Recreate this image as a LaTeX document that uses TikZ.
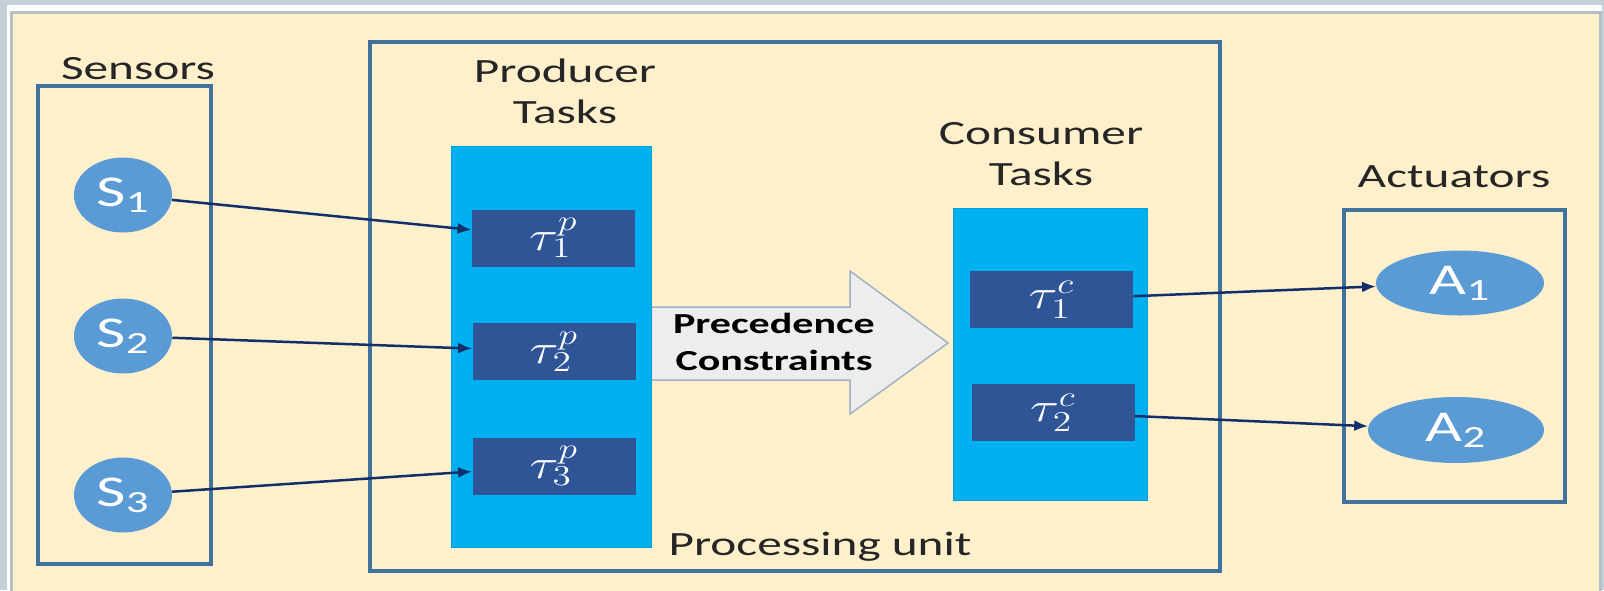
\documentclass[tikz,border=0pt]{standalone}
\usepackage{fontspec}
\setmainfont{Carlito}[FakeStretch=1.45]
\usetikzlibrary{arrows.meta,shapes.geometric}

\definecolor{outergrey}{HTML}{C4CFD7}
\definecolor{panelgrey}{HTML}{B4C0C4}
\definecolor{cream}{HTML}{FFF0CC}
\definecolor{boxblue}{HTML}{41719C}
\definecolor{nodeblue}{HTML}{5B9BD5}
\definecolor{colblue}{HTML}{00B0F0}
\definecolor{taskblue}{HTML}{2F5597}
\definecolor{linknavy}{HTML}{132F6B}
\definecolor{arrowgrey}{HTML}{EDEDED}
\definecolor{arrowedge}{HTML}{9DB2C6}
\definecolor{labelgrey}{HTML}{262626}

\newcommand{\tsk}[2]{\scalebox{1.3}[1]{\(\tau_{#1}^{#2}\)}}

\begin{document}
\begin{tikzpicture}[x=0.5pt, y=-0.5pt,
    group/.style={draw=boxblue, line width=2pt},
    column/.style={fill=colblue, draw=colblue!90!black, line width=0.5pt},
    task/.style={fill=taskblue, text=white, inner sep=0pt,
      minimum width=81.5pt, minimum height=28.5pt,
      font=\fontsize{20}{20}\selectfont},
    device/.style={ellipse, fill=nodeblue, text=white, inner sep=0pt,
      font=\fontsize{22}{24}\selectfont},
    link/.style={draw=linknavy, line width=1.25pt,
      -{Latex[length=7pt, width=5.5pt]}},
    heading/.style={text=labelgrey, align=center, anchor=base,
      font=\fontsize{17}{20.5}\selectfont}]
    \useasboundingbox (0, 0) rectangle (1604, 590);
    % frame
    \fill[outergrey] (0, 0) rectangle (1604, 590);
    \fill[white] (7, 5) rectangle (1602, 590);
    \filldraw[fill=cream, draw=panelgrey, line width=1.5pt]
      (11.5, 12.5) rectangle (1600.5, 593);
    % groups
    \node[group, minimum width=86.75pt, minimum height=239pt]
      at (124.25, 325) (sens) {};
    \node[group, minimum width=425pt, minimum height=264.5pt]
      at (795, 306.5) (proc) {};
    \node[group, minimum width=110.5pt, minimum height=146pt]
      at (1454.5, 356) (act) {};
    % precedence arrow
    \filldraw[fill=arrowgrey, draw=arrowedge, line width=0.75pt]
      (649, 307) -- (850, 307) -- (850, 271) -- (948, 343)
      -- (850, 414) -- (850, 380) -- (649, 380) -- cycle;
    % task columns
    \node[column, minimum width=100pt, minimum height=200.5pt]
      at (551, 346.5) (prod) {};
    \node[column, minimum width=97pt, minimum height=146pt]
      at (1050, 354) (cons) {};
    \node[task] at (553.5, 238) (tp1)
      {\tsk{1}{p}};
    \node[task] at (554, 351.5) (tp2)
      {\tsk{2}{p}};
    \node[task] at (554, 466) (tp3)
      {\tsk{3}{p}};
    \node[task] at (1051.5, 299.5) (tc1)
      {\tsk{1}{c}};
    \node[task] at (1053, 412.5) (tc2)
      {\tsk{2}{c}};
    % sensors and actuators
    \node[device, minimum width=49pt, minimum height=37.5pt]
      at (123, 195) (s1) {S\textsubscript{1}};
    \node[device, minimum width=49pt, minimum height=37.5pt]
      at (123, 336) (s2) {S\textsubscript{2}};
    \node[device, minimum width=49pt, minimum height=37.5pt]
      at (123, 495) (s3) {S\textsubscript{3}};
    \node[device, minimum width=84pt, minimum height=32.5pt]
      at (1460, 283) (a1) {A\textsubscript{1}};
    \node[device, minimum width=88pt, minimum height=33pt]
      at (1456, 430) (a2) {A\textsubscript{2}};
    \path
      (s1) edge[link] (tp1)
      (s2) edge[link] (tp2)
      (s3) edge[link] (tp3);
    \path
      (tc1) edge[link] (a1)
      (tc2) edge[link] (a2);
    % labels
    \node[heading] at (138, 79) (senslbl) {Sensors};
    \node[heading] at (565, 123) (prodlbl) {Producer\\Tasks};
    \node[heading] at (1041, 185) (conslbl) {Consumer\\Tasks};
    \node[heading] at (1454, 187) (actlbl) {Actuators};
    \node[heading] at (820, 555) (proclbl) {Processing unit};
    \node[heading, text=black, font=\bfseries\fontsize{14.5}{18.5}\selectfont]
      at (774, 370) (prec) {Precedence\\Constraints};
  \end{tikzpicture}
\end{document}
